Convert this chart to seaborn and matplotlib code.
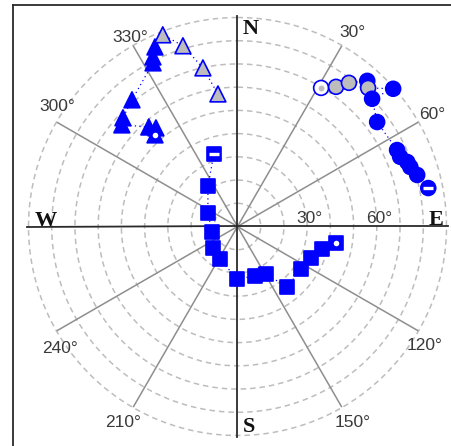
import numpy as np
import pandas as pd
import matplotlib
matplotlib.use("Agg")
import matplotlib.pyplot as plt
from matplotlib.lines import Line2D
import seaborn as sns

# Sky tracks: azimuth (deg, clockwise from North) and zenith angle (deg)
tri_az = [318.0, 320.4, 318.3, 311.3, 313.5, 320.2, 332.7, 333.5, 335.3,
          338.7, 343.2, 347.7, 351.6]
tri_zen = [53.1, 55.1, 57.4, 66.3, 68.0, 71.0, 79.3, 81.6, 85.1,
           88.6, 81.3, 69.9, 57.7]
tri_fill = ["blue"] * 9 + ["gray"] * 4
tri_mark = ["dot"] + [""] * 12

circ_az = [31.1, 35.2, 37.8, 41.7, 43.3, 48.5, 46.5, 53.2, 64.4, 66.8,
           69.2, 71.0, 74.0, 78.6]
circ_zen = [69.7, 73.6, 78.3, 84.0, 82.0, 89.5, 79.9, 75.1, 76.2, 76.2,
            78.2, 78.7, 80.5, 83.8]
circ_fill = ["open", "gray", "gray", "blue", "gray", "blue", "blue", "blue",
             "blue", "blue", "blue", "blue", "blue", "blue"]
circ_mark = ["gdot"] + [""] * 12 + ["bar"]

sq_az = [342.0, 323.9, 294.6, 257.8, 228.7, 208.3, 180.5, 160.5, 149.0,
         140.7, 123.8, 113.2, 104.9, 99.5]
sq_zen = [32.9, 21.6, 14.0, 11.2, 14.0, 15.9, 22.6, 22.6, 23.9, 33.7,
          32.9, 34.5, 37.7, 43.1]
sq_fill = ["blue"] * 14
sq_mark = ["bar"] + [""] * 12 + ["dot"]

ring_radii = [10, 20, 30, 40, 50, 60, 70, 80, 90]
spoke_az = [30, 60, 120, 150, 210, 240, 300, 330]
compass = ["N", "E", "S", "W"]
radial_labels = [30, 60]

BLUE = "#0000FF"
palette = {"blue": BLUE, "gray": "#BDBDBD", "open": "#FFFFFF"}

W, H = 452, 446
fig = plt.figure(figsize=(W / 100, H / 100), dpi=100)
fig.patch.set_facecolor("white")

# polar area: centre at (237.5, 226.5) px, horizon radius 209 px
R = 209
cx, cy = 237.5, 226.5
ax = fig.add_axes([(cx - R) / W, (H - cy - R) / H, 2 * R / W, 2 * R / H],
                  projection="polar")
ax.set_theta_zero_location("N")
ax.set_theta_direction(-1)
ax.set_ylim(0, 90)
ax.grid(False)
ax.set_xticks([])
ax.set_yticks([])
ax.spines["polar"].set_visible(False)
ax.patch.set_visible(False)

# dashed zenith-angle rings
th = np.linspace(0, 2 * np.pi, 721)
for r in ring_radii:
    ax.plot(th, np.full_like(th, r), color="#bdbdbd", lw=1.1,
            dashes=(3.6, 2.6), zorder=1, clip_on=False)

# azimuth spokes
for a in spoke_az:
    ax.plot([np.deg2rad(a)] * 2, [0, 89.5], color="#8e8e8e", lw=1.1,
            zorder=1.2, clip_on=False)
for a in [0, 90, 180, 270]:
    ax.plot([np.deg2rad(a)] * 2, [0, 90.7], color="#2a2a2a", lw=1.3,
            zorder=1.3, clip_on=False)

# spoke labels
sans = "Liberation Sans"
lab_off = {30: (11, 14), 60: (14.5, 7.6), 120: (7.5, -14.6),
           150: (11.6, -16.5), 210: (-10.6, -16.5), 240: (2.5, -17.6),
           300: (-0.5, 15.6), 330: (-3.6, 9.5)}
for a in spoke_az:
    dx, dy = lab_off[a]
    ax.annotate(f"{a}°", xy=(np.deg2rad(a), 89.5), xytext=(dx * 0.72, dy * 0.72),
                textcoords="offset points", ha="center", va="center",
                fontsize=12.5, family=sans, color="#3a3a3a", annotation_clip=False)

# radial labels along the East line
for r in radial_labels:
    ax.annotate(f"{r}°", xy=(np.pi / 2, r), xytext=(2.5 * 0.72, 3 * 0.72),
                textcoords="offset points", ha="center", va="baseline",
                fontsize=12.5, family=sans, color="#3a3a3a", annotation_clip=False)

# compass letters
serif = "Liberation Serif"
comp_pos = {"N": (0, (5, -12), "left", "center"),
            "E": (90, (-3.5, 1.5), "right", "baseline"),
            "S": (180, (5.5, 3.5), "left", "baseline"),
            "W": (270, (6.5, 1), "left", "baseline")}
for c in compass:
    a, (dx, dy), ha, va = comp_pos[c]
    ax.annotate(c, xy=(np.deg2rad(a), 90), xytext=(dx * 0.72, dy * 0.72),
                textcoords="offset points", ha=ha, va=va, fontsize=16,
                fontweight="bold", family=serif, color="#111111",
                annotation_clip=False)


def draw_track(az, zen, fill, mark, marker, size):
    df = pd.DataFrame({"theta": np.deg2rad(az), "zen": zen, "fill": fill})
    ax.plot(df["theta"], df["zen"], color=BLUE, lw=0.9, dashes=(1, 2.6),
            zorder=2, clip_on=False)
    sns.scatterplot(data=df, x="theta", y="zen", hue="fill", palette=palette,
                    marker=marker, s=size, edgecolor=BLUE, linewidth=1.2,
                    legend=False, ax=ax, zorder=3, clip_on=False)
    for t, z, m in zip(df["theta"], df["zen"], mark):
        if m == "dot":
            ax.scatter([t], [z], marker="o", s=16, color="white",
                       linewidths=0, zorder=4, clip_on=False)
        elif m == "gdot":
            ax.scatter([t], [z], marker="o", s=18, color="#BDBDBD",
                       linewidths=0, zorder=4, clip_on=False)
        elif m == "bar":
            ax.scatter([t], [z], marker="_", s=50, color="white",
                       linewidths=2.4, zorder=4, clip_on=False)


draw_track(tri_az, tri_zen, tri_fill, tri_mark, "^", 130)
draw_track(circ_az, circ_zen, circ_fill, circ_mark, "o", 115)
draw_track(sq_az, sq_zen, sq_fill, sq_mark, "s", 105)
ax.set_xlabel("")
ax.set_ylabel("")
ax.set_ylim(0, 90)

# outer frame (left and top edges)
fx = 13 / W
fy = 1 - 5 / H
fig.add_artist(Line2D([fx, fx], [0, fy], transform=fig.transFigure,
                      color="#2a2a2a", lw=1.3))
fig.add_artist(Line2D([fx, 1], [fy, fy], transform=fig.transFigure,
                      color="#2a2a2a", lw=1.3))

fig.savefig("out.png", dpi=100, facecolor="white")
